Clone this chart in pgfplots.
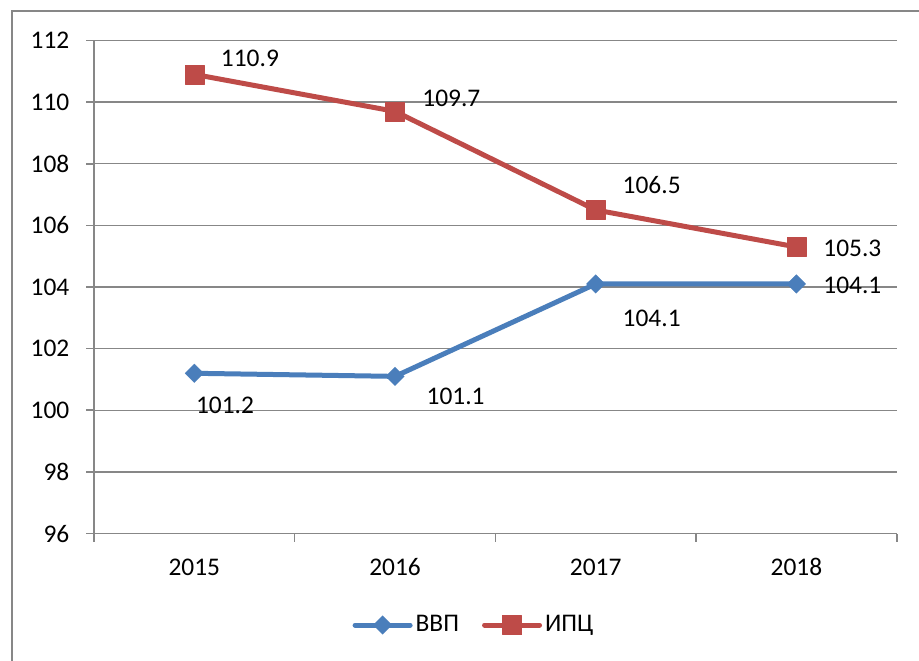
\documentclass[border=0pt]{standalone}
\usepackage{fontspec}
\setmainfont{Carlito}
\usepackage{pgfplots}
\pgfplotsset{compat=1.18}
\definecolor{blueS}{HTML}{4A7EBB}
\definecolor{redS}{HTML}{BE4B48}
\definecolor{gridG}{HTML}{878787}
\begin{document}
\begin{tikzpicture}[font=\fontsize{12.7}{15.2}\selectfont]
\useasboundingbox (0,0) rectangle (459.5pt,-330pt);
\draw[gridG, line width=0.8pt] (5.85pt,-400pt) -- (5.85pt,-5.35pt) -- (500pt,-5.35pt);
\begin{axis}[
  at={(47pt,-266.75pt)}, anchor=south west,
  width=401.35pt, height=246.5pt, scale only axis,
  xmin=-0.5, xmax=3.5, ymin=96, ymax=112,
  ytick={96,98,...,112},
  xtick={-0.5,0.5,1.5,2.5,3.5}, xticklabels={,,,,},
  extra x ticks={0,1,2,3}, extra x tick labels={2015,2016,2017,2018},
  extra x tick style={major tick length=0pt, grid=none, xticklabel style={yshift=-9pt}},
  axis lines*=left, axis line style={-, draw=gridG, line width=0.8pt},
  ymajorgrids, grid style={draw=gridG, line width=0.7pt},
  tick align=outside, major tick length=4pt,
  tick style={draw=gridG, line width=0.8pt},
  yticklabel style={xshift=-4.8pt},
  /pgf/number format/assume math mode=true,
  clip=false,
  legend style={at={(0.474,-0.1856)}, anchor=center, draw=none, legend columns=2,
    /tikz/every even column/.append style={column sep=10pt},
    nodes={inner sep=1.5pt}},
  legend cell align=left,
  legend image code/.code={\draw[mark repeat=2, mark phase=2, #1] plot coordinates {(0pt,0pt) (13.75pt,0pt) (27.5pt,0pt)};},
]
\addplot[blueS, line width=2.5pt, line cap=round, line join=round, mark=square*, mark size=3.3pt,
  mark options={solid, rotate=45, fill=blueS, draw=blueS, line width=0.1pt}]
  coordinates {(0,101.2) (1,101.1) (2,104.1) (3,104.1)};
\addlegendentry{ВВП}
\addplot[redS, line width=2.5pt, line cap=round, line join=round, mark=square*, mark size=4.75pt,
  mark options={solid, fill=redS, draw=redS, line width=0.1pt}]
  coordinates {(0,110.9) (1,109.7) (2,106.5) (3,105.3)};
\addlegendentry{ИПЦ}
\node at (axis cs:0.277,111.43) {110.9};
\node at (axis cs:1.281,110.12) {109.7};
\node at (axis cs:2.279,107.31) {106.5};
\node at (axis cs:3.279,105.27) {105.3};
\node at (axis cs:3.279,104.06) {104.1};
\node at (axis cs:0.153,100.15) {101.2};
\node at (axis cs:1.302,100.45) {101.1};
\node at (axis cs:2.279,102.99) {104.1};
\end{axis}
\end{tikzpicture}
\end{document}
